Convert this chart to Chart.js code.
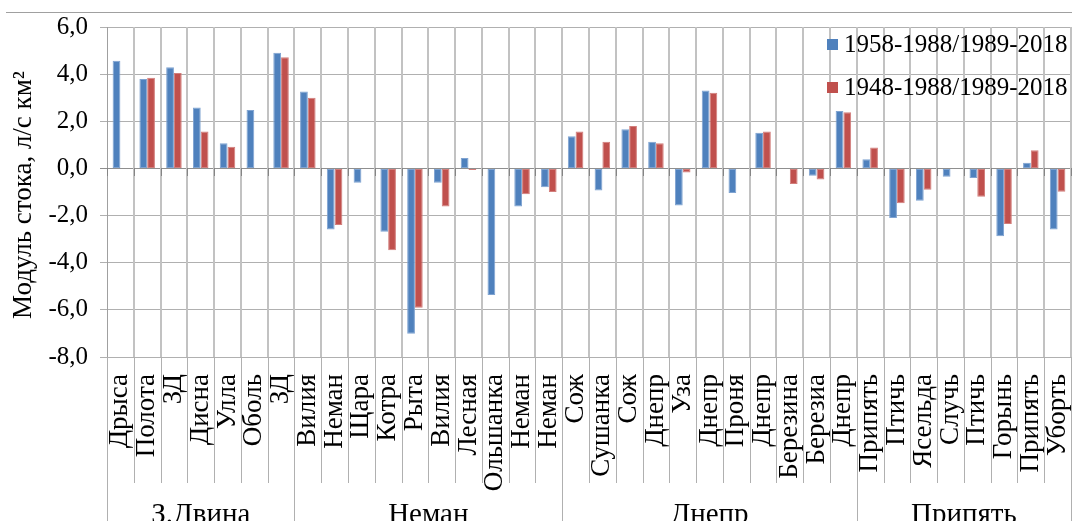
<!DOCTYPE html>
<html>
<head>
<meta charset="utf-8">
<script src="https://cdn.jsdelivr.net/npm/chart.js@4.4.1/dist/chart.umd.min.js"></script>
<style>
  html, body { margin: 0; padding: 0; background: #ffffff; }
  canvas { display: block; }
</style>
</head>
<body>
<canvas id="chart" width="1072" height="521"></canvas>
<script>
// Gauging stations along the category axis, grouped by river basin
const categories = [
  'Дрыса', 'Полота', 'ЗД', 'Дисна', 'Улла', 'Оболь', 'ЗД',
  'Вилия', 'Неман', 'Щара', 'Котра', 'Рыта', 'Вилия', 'Лесная', 'Ольшанка', 'Неман', 'Неман',
  'Сож', 'Сушанка', 'Сож', 'Днепр', 'Уза', 'Днепр', 'Проня', 'Днепр', 'Березина', 'Березиа', 'Днепр',
  'Припять', 'Птичь', 'Ясельда', 'Случь', 'Птичь', 'Горынь', 'Припять', 'Уборть'
];

const basinNames = ['З.Двина', 'Неман', 'Днепр', 'Припять'];
const basinSizes = [7, 10, 11, 8];

// Change in runoff modulus, l/s km²
const change1958 = [
  4.57, 3.79, 4.29, 2.58, 1.07, 2.48, 4.91,
  3.26, -2.59, -0.61, -2.69, -7.01, -0.61, 0.44, -5.37, -1.61, -0.80,
  1.37, -0.94, 1.66, 1.13, -1.57, 3.31, -1.04, 1.51, null, -0.31, 2.44,
  0.39, -2.10, -1.37, -0.35, -0.41, -2.88, 0.24, -2.59
];
const change1948 = [
  null, 3.85, 4.05, 1.57, 0.92, null, 4.72,
  3.00, -2.40, null, -3.47, -5.91, -1.61, -0.07, null, -1.10, -1.00,
  1.57, 1.13, 1.80, 1.07, -0.17, 3.21, null, 1.57, -0.66, -0.47, 2.38,
  0.89, -1.48, -0.90, null, -1.20, -2.36, 0.77, -0.99
];

const seriesNames = ['1958-1988/1989-2018', '1948-1988/1989-2018'];
const yMin = -8, yMax = 6, yStep = 2;
const yTitle = 'Модуль стока, л/с км²';

const SERIF = '"Liberation Serif", "Times New Roman", serif';

function categoryEdges(chart) {
  const x = chart.scales.x;
  const step = x.getPixelForValue(1) - x.getPixelForValue(0);
  return i => x.getPixelForValue(i) - step / 2;
}

function basinBoundaries() {
  const b = [0];
  basinSizes.forEach(s => b.push(b[b.length - 1] + s));
  return b;
}

// Vertical grid at category boundaries, drawn behind the bars
const categoryGrid = {
  id: 'categoryGrid',
  beforeDatasetsDraw(chart) {
    const { ctx, chartArea } = chart;
    const edge = categoryEdges(chart);
    const top = Math.round(chartArea.top);
    const h = Math.round(chartArea.bottom) - top;
    ctx.save();
    ctx.globalCompositeOperation = 'source-over';
    ctx.globalAlpha = 1;
    ctx.fillStyle = '#c2c2c2';
    for (let i = 1; i <= categories.length; i++) {
      ctx.fillRect(Math.round(edge(i)) - 1, top, 2, h);
    }
    ctx.restore();
  }
};

// Axis title, label band lines, zero-axis ticks, basin labels and the inset legend
const axisDecor = {
  id: 'axisDecor',
  afterDraw(chart) {
    const { ctx, chartArea, scales } = chart;
    const y = scales.y;
    const n = categories.length;
    const edge = categoryEdges(chart);
    const H = chart.height;
    const bottom = Math.round(chartArea.bottom);
    const basinEdges = basinBoundaries();

    ctx.save();
    // frame line along the top
    ctx.fillStyle = '#a0a0a0';
    ctx.fillRect(6, 12, chart.width - 6, 1);

    // label band separators; basin boundaries run to the bottom edge
    ctx.fillStyle = '#b0b0b0';
    for (let i = 0; i <= n; i++) {
      const full = basinEdges.includes(i);
      ctx.fillRect(Math.round(edge(i)), bottom, 1, (full ? H : bottom + 126) - bottom);
    }

    // tick marks on the zero axis
    const y0 = Math.round(y.getPixelForValue(0));
    ctx.fillStyle = '#858585';
    for (let i = 0; i <= n; i++) {
      ctx.fillRect(Math.round(edge(i)), y0, 1, 8);
    }

    // vertical axis title
    ctx.save();
    ctx.translate(24, 195);
    ctx.rotate(-Math.PI / 2);
    ctx.fillStyle = '#000';
    ctx.font = '27px ' + SERIF;
    ctx.textAlign = 'center';
    ctx.textBaseline = 'middle';
    ctx.fillText(yTitle, 0, 0);
    ctx.restore();

    // basin names
    ctx.fillStyle = '#000';
    ctx.font = '29px ' + SERIF;
    ctx.textAlign = 'center';
    ctx.textBaseline = 'alphabetic';
    for (let g = 0; g < basinNames.length; g++) {
      const cx = (edge(basinEdges[g]) + edge(basinEdges[g + 1])) / 2;
      ctx.fillText(basinNames[g], cx, H + 2);
    }

    // legend
    ctx.textAlign = 'left';
    ctx.textBaseline = 'middle';
    ctx.font = '25px ' + SERIF;
    const rows = [44, 87];
    chart.data.datasets.forEach((ds, k) => {
      ctx.fillStyle = ds.backgroundColor;
      ctx.fillRect(827, rows[k] - 5, 11, 11);
      ctx.fillStyle = '#000';
      ctx.fillText(ds.label, 844, rows[k] + 1);
    });
    ctx.restore();
  }
};

new Chart(document.getElementById('chart'), {
  type: 'bar',
  data: {
    labels: categories,
    datasets: [
      {
        label: seriesNames[0],
        data: change1958,
        backgroundColor: '#4F81BD',
        borderColor: '#7fa3d1',
        borderWidth: 1,
        borderSkipped: false
      },
      {
        label: seriesNames[1],
        data: change1948,
        backgroundColor: '#C0504D',
        borderColor: '#d27e7b',
        borderWidth: 1,
        borderSkipped: false
      }
    ]
  },
  options: {
    responsive: false,
    animation: false,
    devicePixelRatio: 1,
    layout: { padding: { top: 26, right: 1, left: 0, bottom: 0 } },
    datasets: { bar: { categoryPercentage: 0.58, barPercentage: 1.0 } },
    plugins: {
      legend: { display: false },
      title: { display: false },
      tooltip: { enabled: false }
    },
    scales: {
      x: {
        grid: { display: false },
        border: { display: false },
        ticks: {
          autoSkip: false,
          maxRotation: 90,
          minRotation: 90,
          padding: 9,
          color: '#000',
          font: { family: SERIF, size: 27 }
        },
        afterFit(scale) {
          scale.height = 164;
          scale.paddingLeft = 0;
          scale.paddingRight = 0;
        }
      },
      y: {
        min: yMin,
        max: yMax,
        grid: {
          color: ctx => (ctx.tick && ctx.tick.value === 0) ? '#8f8f8f' : '#b0b0b0',
          tickLength: 7,
          lineWidth: 1
        },
        border: { color: '#a0a0a0' },
        ticks: {
          stepSize: yStep,
          padding: 12,
          color: '#000',
          font: { family: SERIF, size: 25 },
          callback: v => v.toFixed(1).replace('.', ',')
        },
        afterFit(scale) { scale.width = 107; }
      }
    }
  },
  plugins: [categoryGrid, axisDecor]
});
</script>
</body>
</html>
